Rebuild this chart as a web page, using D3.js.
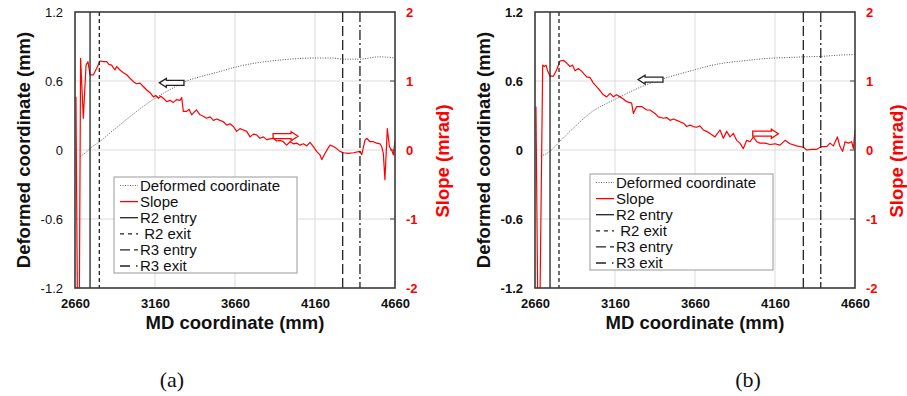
<!DOCTYPE html>
<html><head><meta charset="utf-8">
<script src="https://cdn.jsdelivr.net/npm/d3@7"></script>
<style>body{margin:0;background:#fff}svg{display:block}</style>
</head><body><svg id="c" width="907" height="396"></svg>
<script>
// ---------- data ----------
const mdTicks = [2660, 3160, 3660, 4160, 4660];
const leftTicks = [-1.2, -0.6, 0, 0.6, 1.2];
const rightTicks = [-2, -1, 0, 1, 2];
const leftTickLabels = ["-1.2", "-0.6", "0", "0.6", "1.2"];
const rightTickLabels = ["-2", "-1", "0", "1", "2"];
const legendLabels = ["Deformed coordinate", "Slope", "R2 entry", " R2 exit", "R3 entry", "R3 exit"];
const panelLabels = ["(a)", "(b)"];

// panel (a)
const slopeA_md = [2666,2675,2687,2695,2712,2729,2741,2754,2775,2795,2816,2837,2858,2872,2889,2900,2910,2920,2941,2962,2983,3004,3025,3045,3066,3087,3108,3129,3150,3165,3181,3196,3212,3233,3254,3275,3295,3316,3327,3337,3358,3373,3389,3405,3420,3441,3462,3483,3504,3525,3546,3566,3587,3608,3629,3650,3670,3691,3712,3733,3754,3775,3795,3816,3837,3858,3879,3900,3920,3941,3962,3983,4004,4025,4045,4066,4087,4108,4129,4150,4170,4191,4202,4222,4240,4254,4275,4295,4316,4337,4370,4400,4441,4452,4472,4483,4504,4525,4545,4566,4577,4587,4597,4612,4625,4639,4650,4660];
const slopeA_val = [0.77,-2.2,-2.2,1.33,0.46,1.23,1.28,1.09,1.09,1.18,1.29,1.28,1.28,1.24,1.23,1.19,1.16,1.21,1.16,1.12,1.09,1.04,0.99,0.96,0.97,0.92,0.87,0.83,0.77,0.79,0.75,0.78,0.75,0.70,0.72,0.69,0.73,0.72,0.76,0.56,0.56,0.59,0.51,0.55,0.58,0.51,0.49,0.46,0.48,0.43,0.45,0.43,0.41,0.36,0.38,0.34,0.27,0.31,0.29,0.27,0.19,0.23,0.22,0.17,0.19,0.15,0.16,0.17,0.13,0.14,0.12,0.07,0.12,0.09,0.10,0.07,0.09,0.06,0.11,0.05,-0.02,-0.07,-0.14,-0.05,0.02,0.07,0.05,0.02,-0.02,-0.04,-0.05,-0.04,-0.02,-0.07,0.14,0.17,0.12,0.12,0.10,0.09,0.05,-0.05,-0.43,0.31,0.05,0.0,-0.07,0.14];
const defA_md = [2690,2720,2760,2812,2880,2950,3050,3160,3260,3340,3450,3560,3660,3760,3860,3960,4060,4160,4260,4340,4440,4560,4660];
const defA_val = [-0.06,-0.03,0.02,0.07,0.15,0.23,0.34,0.45,0.53,0.59,0.64,0.68,0.72,0.75,0.77,0.785,0.795,0.80,0.80,0.79,0.79,0.81,0.80];
const markersA = [2754, 2812, 4333, 4441];
const arrowDefA = [3187, 3341, 0.584];   // left-pointing, on left axis
const arrowSlopeA = [3898, 4054, 0.20];  // right-pointing, on right axis

// panel (b)
const slopeB_md = [2666,2677,2691,2708,2718,2729,2737,2754,2775,2795,2816,2837,2858,2879,2895,2910,2931,2952,2983,3004,3025,3056,3087,3108,3129,3150,3170,3191,3212,3233,3264,3275,3295,3327,3358,3379,3410,3431,3462,3483,3504,3525,3546,3566,3587,3608,3629,3650,3670,3691,3712,3733,3754,3785,3816,3837,3858,3879,3900,3920,3941,3962,3983,4004,4025,4046,4066,4098,4129,4160,4191,4223,4254,4295,4337,4358,4389,4420,4452,4483,4504,4525,4550,4566,4583,4598,4618,4639,4650,4660];
const slopeB_val = [0.63,-2.2,-2.2,1.23,1.21,1.23,1.16,1.07,1.07,1.16,1.29,1.30,1.26,1.21,1.23,1.15,1.18,1.14,1.06,1.05,0.97,0.89,0.80,0.77,0.82,0.77,0.80,0.77,0.74,0.70,0.68,0.53,0.63,0.63,0.58,0.58,0.53,0.48,0.46,0.47,0.43,0.45,0.43,0.41,0.39,0.34,0.36,0.34,0.33,0.35,0.29,0.27,0.24,0.19,0.29,0.17,0.27,0.19,0.24,0.14,0.10,0.02,0.14,0.12,0.19,0.12,0.10,0.10,0.08,0.09,0.07,0.14,0.09,0.06,0.04,0.0,0.01,0.01,0.05,0.05,0.10,0.06,0.19,0.05,-0.02,0.12,0.10,0.12,0.02,0.29];
const defB_md = [2695,2720,2754,2812,2900,3004,3100,3160,3260,3360,3462,3560,3664,3760,3860,3960,4060,4160,4260,4340,4460,4560,4660];
const defB_val = [-0.05,-0.04,-0.01,0.07,0.19,0.32,0.40,0.44,0.51,0.57,0.62,0.66,0.70,0.735,0.76,0.775,0.79,0.80,0.805,0.81,0.815,0.825,0.83];
const markersB = [2754, 2810, 4337, 4446];
const arrowDefB = [3304, 3460, 0.612];
const arrowSlopeB = [4021, 4181, 0.236];

// ---------- drawing ----------
const svg = d3.select("#c");
const FONT = "'Liberation Sans', Arial, sans-serif";
const markerDash = [null, "4,3", "10,4", "10,3,2,3"];
const legendDash = ["1,1.5", null, null, "4,4", "10,4", "10,6,1.5,3"];
const legendColor = ["#666", "#ff0000", "#222", "#222", "#222", "#222"];

function drawPanel(cfg, idx) {
  const L = cfg.left, R = cfg.left + 320, T = 12, B = 288;
  const x = d3.scaleLinear().domain([2660, 4660]).range([L, R]);
  const yL = d3.scaleLinear().domain([-1.2, 1.2]).range([B, T]);
  const yR = d3.scaleLinear().domain([-2, 2]).range([B, T]);
  const g = svg.append("g");

  const clipId = "clip" + idx;
  g.append("clipPath").attr("id", clipId).append("rect")
    .attr("x", L).attr("y", T).attr("width", R - L).attr("height", B - T);

  // gridlines
  g.append("g").selectAll("line").data(mdTicks.slice(1, -1)).join("line")
    .attr("x1", d => x(d)).attr("x2", d => x(d)).attr("y1", T).attr("y2", B)
    .attr("stroke", "#dcdcdc").attr("stroke-width", 1);
  g.append("g").selectAll("line").data(leftTicks.slice(1, -1)).join("line")
    .attr("y1", d => yL(d)).attr("y2", d => yL(d)).attr("x1", L).attr("x2", R)
    .attr("stroke", "#dcdcdc").attr("stroke-width", 1);

  // inward ticks on right side
  g.append("g").selectAll("line").data(rightTicks.slice(1, -1)).join("line")
    .attr("y1", d => yR(d)).attr("y2", d => yR(d)).attr("x1", R - 5).attr("x2", R)
    .attr("stroke", "#444").attr("stroke-width", 1);

  const plot = g.append("g").attr("clip-path", `url(#${clipId})`);

  // deformed coordinate (dotted)
  const defPts = cfg.defMd.map((m, i) => [m, cfg.defVal[i]]);
  plot.append("path").datum(defPts)
    .attr("d", d3.line().x(d => x(d[0])).y(d => yL(d[1])).curve(d3.curveMonotoneX))
    .attr("fill", "none").attr("stroke", "#555").attr("stroke-width", 1)
    .attr("stroke-dasharray", "1,1.5");

  // slope
  const slPts = cfg.slMd.map((m, i) => [m, cfg.slVal[i]]);
  plot.append("path").datum(slPts)
    .attr("d", d3.line().x(d => x(d[0])).y(d => yR(d[1])))
    .attr("fill", "none").attr("stroke", "#ff0000").attr("stroke-width", 1.2)
    .attr("stroke-linejoin", "round");

  // marker lines
  plot.append("g").selectAll("line").data(cfg.markers).join("line")
    .attr("x1", d => x(d)).attr("x2", d => x(d)).attr("y1", T).attr("y2", B)
    .attr("stroke", "#222").attr("stroke-width", 1.3)
    .attr("stroke-dasharray", (d, i) => markerDash[i]);

  // arrows
  function arrow(x0, x1, yc, dir, color) {
    const hh = 4.5, bh = 2.5, hl = 7;
    let pts;
    if (dir < 0) {
      pts = [[x0, yc], [x0 + hl, yc - hh], [x0 + hl, yc - bh], [x1, yc - bh], [x1, yc + bh], [x0 + hl, yc + bh], [x0 + hl, yc + hh]];
    } else {
      pts = [[x1, yc], [x1 - hl, yc - hh], [x1 - hl, yc - bh], [x0, yc - bh], [x0, yc + bh], [x1 - hl, yc + bh], [x1 - hl, yc + hh]];
    }
    g.append("polygon").attr("points", pts.map(p => p.join(",")).join(" "))
      .attr("fill", "#fff").attr("stroke", color).attr("stroke-width", 1.3);
  }
  arrow(x(cfg.arrowDef[0]), x(cfg.arrowDef[1]), yL(cfg.arrowDef[2]), -1, "#222");
  arrow(x(cfg.arrowSlope[0]), x(cfg.arrowSlope[1]), yR(cfg.arrowSlope[2]), 1, "#ff0000");

  // frame
  g.append("rect").attr("x", L).attr("y", T).attr("width", R - L).attr("height", B - T)
    .attr("fill", "none").attr("stroke", "#3a3a3a").attr("stroke-width", 1.6);

  // axes (labels only, via d3 axes)
  const ax = g.append("g").attr("transform", `translate(0,${B})`)
    .call(d3.axisBottom(x).tickValues(mdTicks).tickSize(0).tickPadding(11).tickFormat(d3.format("d")));
  ax.select(".domain").remove();
  ax.selectAll("text").attr("font-family", FONT).attr("font-size", 13).attr("font-weight", "bold").attr("fill", "#111");

  const ay = g.append("g").attr("transform", `translate(${L},0)`)
    .call(d3.axisLeft(yL).tickValues(leftTicks).tickSize(0).tickPadding(12).tickFormat((d, i) => leftTickLabels[i]));
  ay.select(".domain").remove();
  ay.selectAll("text").attr("font-family", FONT).attr("font-size", 13)
    .attr("font-weight", cfg.leftBold ? "bold" : "normal").attr("fill", "#111");

  const ayr = g.append("g").attr("transform", `translate(${R},0)`)
    .call(d3.axisRight(yR).tickValues(rightTicks).tickSize(0).tickPadding(11).tickFormat((d, i) => rightTickLabels[i]));
  ayr.select(".domain").remove();
  ayr.selectAll("text").attr("font-family", FONT).attr("font-size", 13).attr("font-weight", "bold").attr("fill", "#ff0000");

  // axis titles
  g.append("text").attr("x", (L + R) / 2).attr("y", 329).attr("text-anchor", "middle")
    .attr("font-family", FONT).attr("font-size", 18.5).attr("font-weight", "bold").attr("fill", "#111")
    .text("MD coordinate (mm)");
  g.append("text").attr("transform", `translate(${L - 51},${(T + B) / 2}) rotate(-90)`)
    .attr("text-anchor", "middle").attr("dy", "0.35em")
    .attr("font-family", FONT).attr("font-size", 18.5).attr("font-weight", "bold").attr("fill", "#111")
    .text("Deformed coordinate (mm)");
  g.append("text").attr("transform", `translate(${Math.min(R + 48, 897)},${(T + B) / 2 + 11}) rotate(-90)`)
    .attr("text-anchor", "middle").attr("dy", "0.35em")
    .attr("font-family", FONT).attr("font-size", 18.5).attr("font-weight", "bold").attr("fill", "#ff0000")
    .text("Slope (mrad)");

  // panel label
  g.append("text").attr("x", cfg.panelX).attr("y", 387).attr("text-anchor", "middle")
    .attr("font-family", "'Liberation Serif', 'Times New Roman', serif").attr("font-size", 22).attr("fill", "#111")
    .text(panelLabels[idx]);

  // legend
  const lx = cfg.legend[0], ly = cfg.legend[1];
  const lg = g.append("g");
  lg.append("rect").attr("x", lx).attr("y", ly).attr("width", 183).attr("height", 96)
    .attr("fill", "#fff").attr("stroke", "#9a9a9a").attr("stroke-width", 1);
  legendLabels.forEach((lab, i) => {
    const yy = ly + 8.5 + i * 16.1;
    lg.append("line").attr("x1", lx + 6).attr("x2", lx + 24).attr("y1", yy).attr("y2", yy)
      .attr("stroke", legendColor[i]).attr("stroke-width", i === 0 ? 1 : 1.3)
      .attr("stroke-dasharray", legendDash[i]);
    lg.append("text").attr("x", lx + 26).attr("y", yy).attr("dy", "0.36em")
      .attr("font-family", FONT).attr("font-size", 15).attr("fill", "#111")
      .attr("xml:space", "preserve").style("white-space", "pre")
      .text(lab);
  });
}

drawPanel({left: 75, slMd: slopeA_md, slVal: slopeA_val, defMd: defA_md, defVal: defA_val,
  markers: markersA, arrowDef: arrowDefA, arrowSlope: arrowSlopeA, leftBold: false,
  legend: [114, 177], panelX: 172}, 0);
drawPanel({left: 535, slMd: slopeB_md, slVal: slopeB_val, defMd: defB_md, defVal: defB_val,
  markers: markersB, arrowDef: arrowDefB, arrowSlope: arrowSlopeB, leftBold: true,
  legend: [590, 174], panelX: 748}, 1);
</script></body></html>
